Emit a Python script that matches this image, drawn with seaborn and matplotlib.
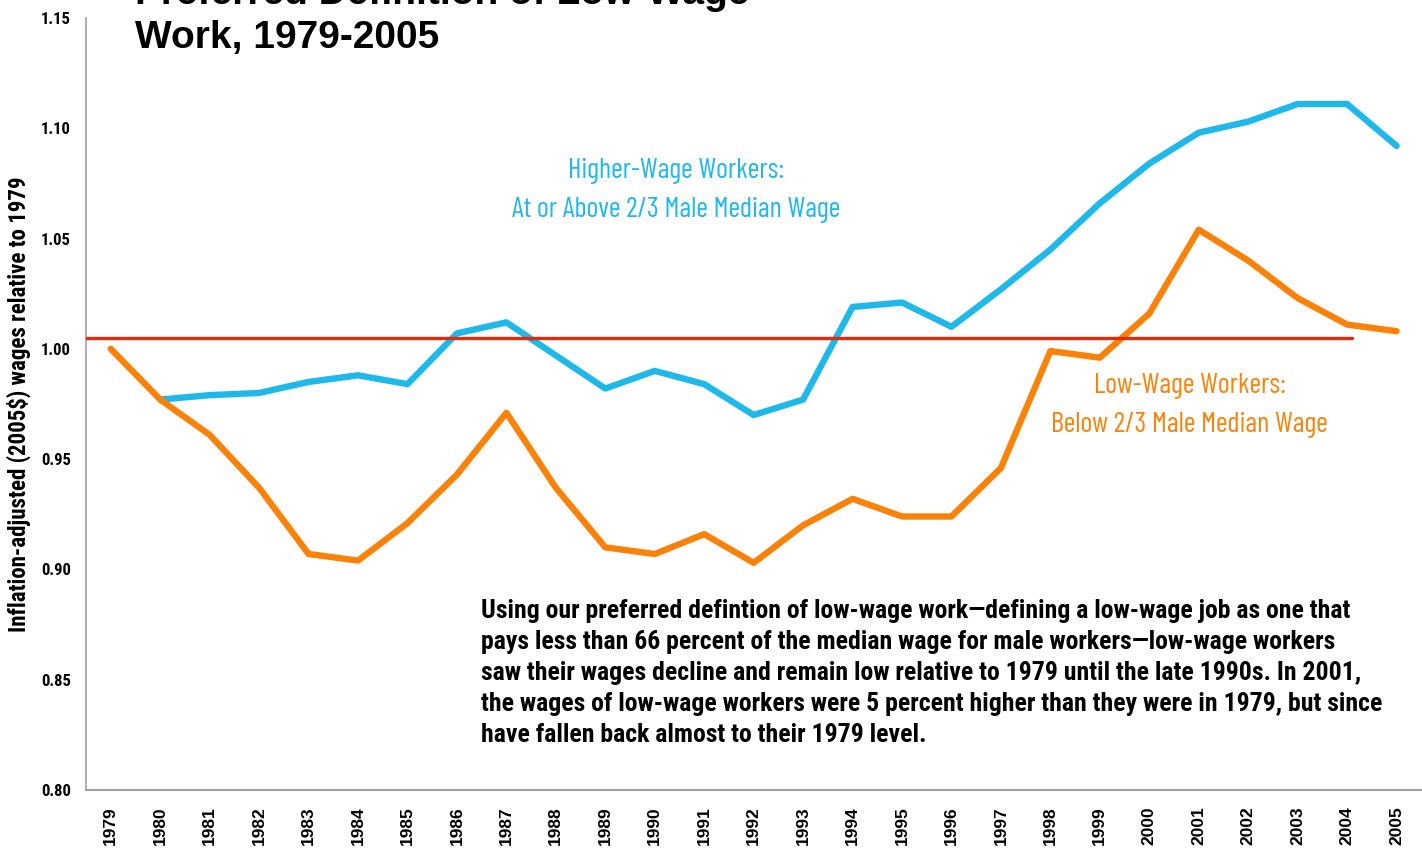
import matplotlib
matplotlib.use('Agg')
import matplotlib.pyplot as plt
import seaborn as sns
import pandas as pd

years = list(range(1979, 2006))
higher_wage = [None, 0.977, 0.979, 0.980, 0.985, 0.988, 0.984, 1.007, 1.012, 0.997,
               0.982, 0.990, 0.984, 0.970, 0.977, 1.019, 1.021, 1.010, 1.027, 1.045,
               1.066, 1.084, 1.098, 1.103, 1.111, 1.111, 1.092]
low_wage = [1.000, 0.977, 0.961, 0.937, 0.907, 0.904, 0.921, 0.943, 0.971, 0.937,
            0.910, 0.907, 0.916, 0.903, 0.920, 0.932, 0.924, 0.924, 0.946, 0.999,
            0.996, 1.016, 1.054, 1.040, 1.023, 1.011, 1.008]
ref_level = 1.005
ref_years = [1978.5, 2004.1]
y_ticks = [0.80, 0.85, 0.90, 0.95, 1.00, 1.05, 1.10, 1.15]

blue = '#1fb8ea'
orange = '#fb8209'
red = '#de2c0c'

narrow = ['Roboto Condensed', 'DejaVu Sans']
label_font = ['Barlow Condensed', 'DejaVu Sans']
wide = ['Liberation Sans', 'DejaVu Sans']

df = pd.DataFrame({
    'year': years * 2,
    'value': higher_wage + low_wage,
    'group': ['Higher'] * len(years) + ['Low'] * len(years),
}).dropna()

sns.set_style('white')
plt.rcParams['font.family'] = narrow
plt.rcParams['text.color'] = 'black'
plt.rcParams['xtick.color'] = 'black'
plt.rcParams['ytick.color'] = 'black'
plt.rcParams['axes.labelcolor'] = 'black'

fig = plt.figure(figsize=(14.22, 8.55), dpi=100)
ax = fig.add_axes([0.0605, 0.076, 0.939, 0.903])

ax.plot(ref_years, [ref_level, ref_level], color=red, lw=2.4, zorder=3)
sns.lineplot(data=df, x='year', y='value', hue='group',
             palette={'Higher': blue, 'Low': orange}, lw=4.6, legend=False,
             ax=ax, zorder=2)

ax.set_xlim(1978.5, 2005.5)
ax.set_ylim(0.80, 1.15)
ax.set_xticks(years)
ax.set_xticklabels([str(y) for y in years], rotation=90, fontsize=12.5,
                   fontweight='bold', family=wide)
ax.set_yticks(y_ticks)
ax.set_yticklabels([f'{v:.2f}' for v in y_ticks], fontsize=12, fontweight='bold')
ax.tick_params(axis='y', length=0, pad=11)
ax.tick_params(axis='x', length=0, pad=12)
ax.set_xlabel('')
ax.set_ylabel('Inflation-adjusted (2005$) wages relative to 1979', fontsize=16.5,
              fontweight='bold')
ax.yaxis.set_label_coords(-0.041, 0.5)

for s in ['top', 'right']:
    ax.spines[s].set_visible(False)
ax.spines['left'].set_color('#a0a0a0')
ax.spines['bottom'].set_color('#a0a0a0')
ax.spines['left'].set_linewidth(1.2)
ax.spines['bottom'].set_linewidth(1.5)

ax.text(1990.44, 1.0716, 'Higher-Wage Workers:\nAt or Above 2/3 Male Median Wage',
        color=blue, fontsize=20.5, ha='center', va='center', linespacing=1.65,
        family=label_font)
ax.text(2000.82, 0.9743, 'Low-Wage Workers:\nBelow 2/3 Male Median Wage',
        color=orange, fontsize=20.5, ha='center', va='center', linespacing=1.65,
        family=label_font)

note = ('Using our preferred defintion of low-wage work\u2014defining a low-wage job as one that\n'
        'pays less than 66 percent of the median wage for male workers\u2014low-wage workers\n'
        'saw their wages decline and remain low relative to 1979 until the late 1990s. In 2001,\n'
        'the wages of low-wage workers were 5 percent higher than they were in 1979, but since\n'
        'have fallen back almost to their 1979 level.')
ax.text(1986.49, 0.853, note, fontsize=18.5, fontweight='bold', ha='left', va='center',
        linespacing=1.36)

fig.text(0.095, 1 - 4 / 855, 'Preferred Definition of Low-Wage', fontsize=28,
         fontweight='bold', ha='left', va='baseline', family=wide)
fig.text(0.095, 1 - 48 / 855, 'Work, 1979-2005', fontsize=28,
         fontweight='bold', ha='left', va='baseline', family=wide)

fig.savefig('out.png', dpi=100)
